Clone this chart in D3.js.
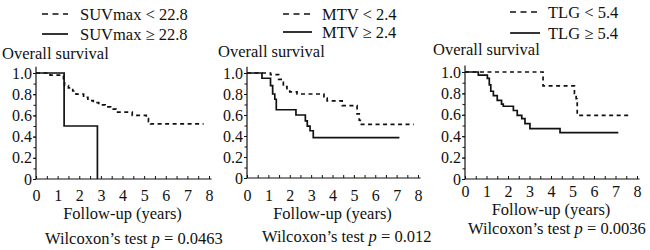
<!doctype html>
<html lang="en">
    <head>
        <meta charset="utf-8">
        <title>Overall survival</title>
        <script src="https://cdn.jsdelivr.net/npm/d3@7"></script>
        <style>
            body { margin: 0; background: #fff; }
            svg { display: block; font-family: "Liberation Serif", "Times New Roman", serif; }
            text { fill: #111; font-size: 16.5px; }
            .tick text { font-size: 16px; }
        </style>
    </head>
    <body>
        <script type="text/javascript">

            var svgW = 650;
            var svgH = 250;

            // axis values
            var yearTicks = [0, 1, 2, 3, 4, 5, 6, 7, 8];
            var survTicks = [0, 0.2, 0.4, 0.6, 0.8, 1.0];
            var survLabels = ["0", "0.2", "0.4", "0.6", "0.8", "1.0"];

            // SUVmax (time in years, survival)
            var suvLowT = [0, 0.65, 1.27, 1.32, 1.5, 1.7, 1.85, 2.2, 2.4, 2.65, 2.9, 3.2, 3.45, 3.7, 4.45, 5.1, 5.2, 5.3, 7.75];
            var suvLowS = [1.0, 0.98, 0.92, 0.88, 0.86, 0.83, 0.80, 0.77, 0.74, 0.72, 0.70, 0.68, 0.66, 0.63, 0.60, 0.57, 0.54, 0.52, 0.52];
            var suvHighT = [0, 1.3, 2.84];
            var suvHighS = [1.0, 0.5, 0];

            // MTV
            var mtvLowT = [0, 1.1, 1.48, 1.6, 1.7, 1.87, 2.0, 2.34, 3.6, 3.75, 4.45, 5.15, 5.25, 5.3, 7.8];
            var mtvLowS = [1.0, 0.985, 0.94, 0.91, 0.87, 0.84, 0.82, 0.80, 0.76, 0.735, 0.69, 0.61, 0.55, 0.51, 0.51];
            var mtvHighT = [0, 0.7, 1.1, 1.2, 1.3, 1.37, 2.29, 2.73, 2.82, 2.95, 3.1, 7.13];
            var mtvHighS = [1.0, 0.95, 0.88, 0.80, 0.75, 0.65, 0.60, 0.545, 0.495, 0.45, 0.385, 0.385];

            // TLG
            var tlgLowT = [0, 3.63, 5.09, 5.17, 5.22, 7.7];
            var tlgLowS = [1.0, 0.87, 0.80, 0.75, 0.595, 0.595];
            var tlgHighT = [0, 0.62, 1.04, 1.13, 1.2, 1.32, 1.5, 1.7, 1.78, 2.25, 2.43, 2.64, 2.79, 3.02, 4.42, 7.13];
            var tlgHighS = [1.0, 0.97, 0.94, 0.88, 0.82, 0.78, 0.735, 0.70, 0.68, 0.64, 0.595, 0.564, 0.517, 0.47, 0.433, 0.433];

            var legendLow = ["SUVmax < 22.8", "MTV < 2.4", "TLG < 5.4"];
            var legendHigh = ["SUVmax \u2265 22.8", "MTV \u2265 2.4", "TLG \u2265 5.4"];
            var pValues = ["0.0463", "0.012", "0.0036"];

            var panels = [
                {low: [suvLowT, suvLowS], high: [suvHighT, suvHighS],
                 x0: 36, x1: 209, y0: 179, y1: 73,
                 legX: [42, 68], legTextX: 80, legY: [14, 34],
                 titleX: 2, titleY: 59, tickY: 201, xlabY: 219, testX: 45, testY: 244},
                {low: [mtvLowT, mtvLowS], high: [mtvHighT, mtvHighS],
                 x0: 247, x1: 418, y0: 178, y1: 73,
                 legX: [283, 312], legTextX: 322, legY: [14, 32],
                 titleX: 218, titleY: 57, tickY: 201, xlabY: 219, testX: 262, testY: 242},
                {low: [tlgLowT, tlgLowS], high: [tlgHighT, tlgHighS],
                 x0: 465, x1: 637, y0: 179, y1: 72,
                 legX: [510, 540], legTextX: 548, legY: [12, 33],
                 titleX: 433, titleY: 55, tickY: 197, xlabY: 215, testX: 468, testY: 234}
            ];

            var svg = d3.select("body")
                        .append("svg")
                        .attr("width", svgW)
                        .attr("height", svgH);

            panels.forEach((p, i) => {
                var g = svg.append("g");

                var x = d3.scaleLinear().domain([0, 8]).range([p.x0, p.x1]);
                var y = d3.scaleLinear().domain([0, 1]).range([p.y0, p.y1]);

                // axis lines
                g.append("line")
                 .attr("x1", x(0)).attr("x2", x(8.12))
                 .attr("y1", y(0)).attr("y2", y(0))
                 .attr("stroke", "#111").attr("stroke-width", 1.2);
                g.append("line")
                 .attr("x1", x(0)).attr("x2", x(0))
                 .attr("y1", y(0)).attr("y2", y(1.06))
                 .attr("stroke", "#111").attr("stroke-width", 1.2);

                // x ticks (inward, every half year) and labels
                var xMinor = g.append("g")
                              .attr("transform", "translate(0," + y(0) + ")")
                              .call(d3.axisBottom(x).tickValues(d3.range(0, 8.01, 0.5)).tickSize(-3).tickFormat(""));
                var xAxis = g.append("g")
                             .attr("transform", "translate(0," + y(0) + ")")
                             .call(d3.axisBottom(x).tickValues(yearTicks).tickSize(0).tickPadding(p.tickY - y(0) - 11.4).tickFormat(d3.format("d")));

                // y ticks (outward) and labels
                var yMinor = g.append("g")
                              .attr("transform", "translate(" + x(0) + ",0)")
                              .call(d3.axisLeft(y).tickValues(d3.range(0, 1.01, 0.1)).tickSize(2.5).tickFormat(""));
                var yAxis = g.append("g")
                             .attr("transform", "translate(" + x(0) + ",0)")
                             .call(d3.axisLeft(y).tickValues(survTicks).tickSize(3).tickPadding(1)
                                   .tickFormat((d, k) => survLabels[k]));

                [xMinor, xAxis, yMinor, yAxis].forEach(a => {
                    a.attr("font-family", null).attr("font-size", null);
                    a.select(".domain").remove();
                    a.selectAll("line").attr("stroke", "#111");
                    a.selectAll("text").attr("fill", "#111");
                });

                // survival curves
                var line = d3.line()
                             .x(d => x(d[0]))
                             .y(d => y(d[1]))
                             .curve(d3.curveStepAfter);

                g.append("path")
                 .attr("d", line(d3.zip(p.low[0], p.low[1])))
                 .attr("fill", "none")
                 .attr("stroke", "#111")
                 .attr("stroke-width", 1.7)
                 .attr("stroke-dasharray", "4,3.5");
                g.append("path")
                 .attr("d", line(d3.zip(p.high[0], p.high[1])))
                 .attr("fill", "none")
                 .attr("stroke", "#111")
                 .attr("stroke-width", 1.7);

                // legend
                g.append("line")
                 .attr("x1", p.legX[0]).attr("x2", p.legX[1])
                 .attr("y1", p.legY[0]).attr("y2", p.legY[0])
                 .attr("stroke", "#111").attr("stroke-width", 1.7)
                 .attr("stroke-dasharray", "6,4.5");
                g.append("line")
                 .attr("x1", p.legX[0]).attr("x2", p.legX[1])
                 .attr("y1", p.legY[1]).attr("y2", p.legY[1])
                 .attr("stroke", "#111").attr("stroke-width", 1.7);
                g.append("text")
                 .attr("x", p.legTextX).attr("y", p.legY[0] + 5.5)
                 .text(legendLow[i]);
                g.append("text")
                 .attr("x", p.legTextX).attr("y", p.legY[1] + 5.5)
                 .text(legendHigh[i]);

                // titles
                g.append("text")
                 .attr("x", p.titleX).attr("y", p.titleY)
                 .text("Overall survival");
                g.append("text")
                 .attr("x", (p.x0 + p.x1) / 2).attr("y", p.xlabY)
                 .attr("text-anchor", "middle")
                 .text("Follow-up (years)");

                var test = g.append("text")
                            .attr("x", p.testX).attr("y", p.testY);
                test.append("tspan").text("Wilcoxon\u2019s test ");
                test.append("tspan").attr("font-style", "italic").text("p");
                test.append("tspan").text(" = " + pValues[i]);
            });
        </script>
    </body>
</html>
